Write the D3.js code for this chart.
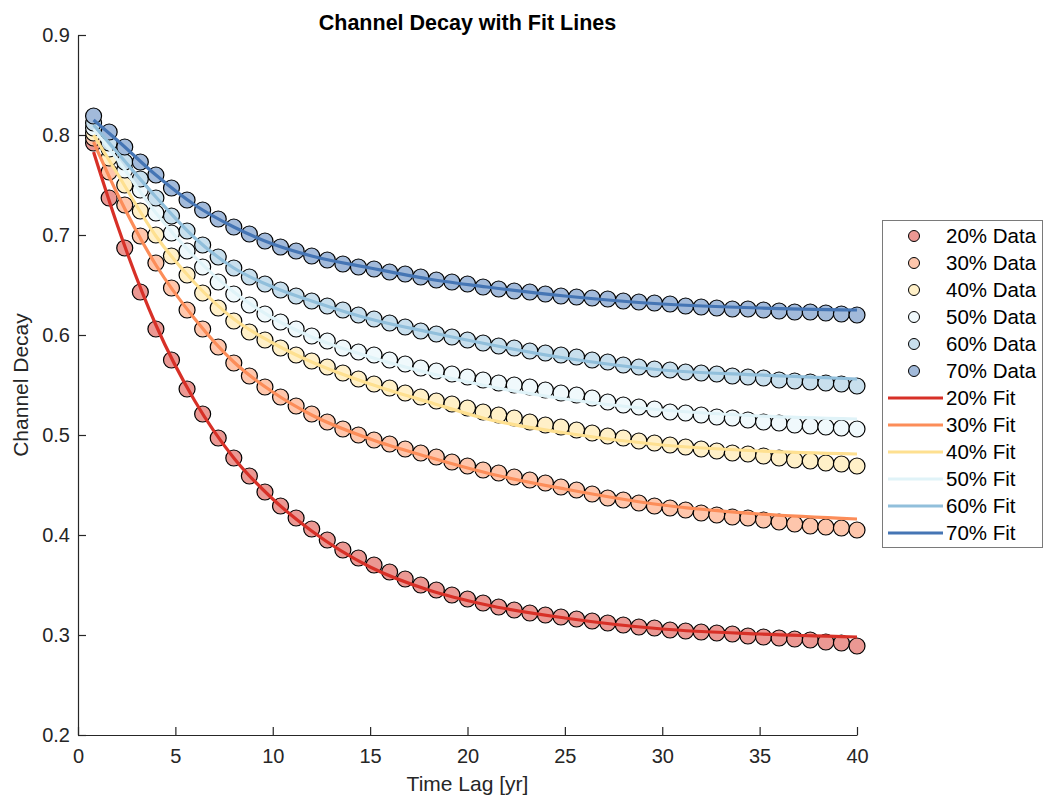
<!DOCTYPE html>
<html>
<head>
<meta charset="utf-8">
<script src="https://cdn.jsdelivr.net/npm/d3@7"></script>
<style>
  html, body { margin: 0; padding: 0; background: #ffffff; }
  svg { display: block; font-family: "Liberation Sans", Arial, Helvetica, sans-serif; }
</style>
</head>
<body>
<svg id="chart" width="1046" height="801"></svg>
<script>
// Sampled time lags (years)
const timeLag = [0.8, 1.6, 2.4, 3.2, 4.0, 4.8, 5.6, 6.4, 7.2, 8.0,
  8.8, 9.6, 10.4, 11.2, 12.0, 12.8, 13.6, 14.4, 15.2, 16.0,
  16.8, 17.6, 18.4, 19.2, 20.0, 20.8, 21.6, 22.4, 23.2, 24.0,
  24.8, 25.6, 26.4, 27.2, 28.0, 28.8, 29.6, 30.4, 31.2, 32.0,
  32.8, 33.6, 34.4, 35.2, 36.0, 36.8, 37.6, 38.4, 39.2, 40.0];

const seriesNames = ["20%", "30%", "40%", "50%", "60%", "70%"];

// Measured channel decay per level
const decay20 = [0.792, 0.737, 0.687, 0.643, 0.606, 0.575, 0.546, 0.521, 0.497, 0.477,
  0.459, 0.443, 0.429, 0.417, 0.406, 0.395, 0.385, 0.377, 0.370, 0.363,
  0.356, 0.350, 0.345, 0.340, 0.336, 0.332, 0.328, 0.325, 0.322, 0.320,
  0.318, 0.316, 0.314, 0.312, 0.310, 0.308, 0.307, 0.305, 0.304, 0.303,
  0.302, 0.301, 0.299, 0.298, 0.297, 0.296, 0.295, 0.293, 0.292, 0.289];
const decay30 = [0.797, 0.763, 0.730, 0.699, 0.672, 0.647, 0.625, 0.606, 0.588, 0.572,
  0.559, 0.548, 0.538, 0.529, 0.521, 0.513, 0.506, 0.500, 0.495, 0.491,
  0.486, 0.482, 0.478, 0.473, 0.469, 0.465, 0.462, 0.458, 0.455, 0.452,
  0.448, 0.445, 0.441, 0.437, 0.435, 0.432, 0.429, 0.427, 0.425, 0.422,
  0.420, 0.418, 0.417, 0.415, 0.413, 0.411, 0.409, 0.408, 0.407, 0.405];
const decay40 = [0.802, 0.777, 0.750, 0.724, 0.700, 0.679, 0.660, 0.642, 0.627, 0.614,
  0.603, 0.595, 0.587, 0.580, 0.574, 0.568, 0.562, 0.556, 0.551, 0.547,
  0.542, 0.538, 0.534, 0.531, 0.527, 0.523, 0.520, 0.517, 0.513, 0.510,
  0.508, 0.505, 0.502, 0.499, 0.497, 0.494, 0.492, 0.490, 0.488, 0.486,
  0.484, 0.482, 0.481, 0.479, 0.477, 0.475, 0.474, 0.472, 0.471, 0.469];
const decay50 = [0.807, 0.786, 0.765, 0.745, 0.722, 0.702, 0.684, 0.668, 0.653, 0.641,
  0.630, 0.621, 0.613, 0.606, 0.599, 0.594, 0.587, 0.583, 0.580, 0.575,
  0.571, 0.567, 0.564, 0.561, 0.558, 0.555, 0.552, 0.550, 0.548, 0.545,
  0.542, 0.540, 0.537, 0.533, 0.530, 0.528, 0.526, 0.523, 0.522, 0.520,
  0.518, 0.517, 0.515, 0.513, 0.512, 0.510, 0.509, 0.508, 0.507, 0.506];
const decay60 = [0.812, 0.792, 0.773, 0.756, 0.737, 0.719, 0.704, 0.690, 0.678, 0.667,
  0.658, 0.651, 0.645, 0.639, 0.634, 0.629, 0.625, 0.620, 0.616, 0.612,
  0.608, 0.604, 0.601, 0.598, 0.595, 0.592, 0.589, 0.587, 0.584, 0.582,
  0.580, 0.578, 0.575, 0.573, 0.570, 0.568, 0.566, 0.565, 0.563, 0.562,
  0.561, 0.559, 0.558, 0.557, 0.555, 0.554, 0.553, 0.552, 0.551, 0.549];
const decay70 = [0.819, 0.803, 0.788, 0.773, 0.760, 0.747, 0.735, 0.725, 0.716, 0.708,
  0.701, 0.694, 0.688, 0.684, 0.679, 0.675, 0.671, 0.668, 0.666, 0.663,
  0.661, 0.658, 0.655, 0.653, 0.651, 0.648, 0.646, 0.644, 0.643, 0.641,
  0.639, 0.638, 0.637, 0.636, 0.634, 0.633, 0.632, 0.631, 0.629, 0.628,
  0.627, 0.626, 0.626, 0.625, 0.624, 0.623, 0.623, 0.622, 0.621, 0.620];

// Fitted curves, evaluated at these lags
const fitLag = [0.8, 2, 4, 6, 8, 10, 12, 15, 18, 21, 25, 30, 35, 40];
const fit20 = [0.783, 0.711, 0.610, 0.534, 0.477, 0.436, 0.404, 0.368, 0.345, 0.330, 0.317, 0.306, 0.301, 0.298];
const fit30 = [0.793, 0.742, 0.670, 0.616, 0.573, 0.543, 0.520, 0.496, 0.478, 0.462, 0.446, 0.430, 0.421, 0.416];
const fit40 = [0.800, 0.762, 0.699, 0.652, 0.616, 0.592, 0.573, 0.551, 0.533, 0.516, 0.502, 0.490, 0.484, 0.481];
const fit50 = [0.806, 0.776, 0.722, 0.678, 0.643, 0.617, 0.598, 0.578, 0.562, 0.549, 0.536, 0.525, 0.519, 0.516];
const fit60 = [0.810, 0.783, 0.738, 0.697, 0.667, 0.648, 0.634, 0.616, 0.603, 0.591, 0.577, 0.565, 0.560, 0.556];
const fit70 = [0.815, 0.795, 0.760, 0.730, 0.708, 0.691, 0.679, 0.667, 0.656, 0.648, 0.639, 0.631, 0.627, 0.625];

const xTicks = [0, 5, 10, 15, 20, 25, 30, 35, 40];
const yTicks = [0.2, 0.3, 0.4, 0.5, 0.6, 0.7, 0.8, 0.9];

const lineColors = ["#d73027", "#fc8d59", "#fee090", "#e0f3f8", "#91bfdb", "#4575b4"];

const decaySets = [decay20, decay30, decay40, decay50, decay60, decay70];
const fitSets = [fit20, fit30, fit40, fit50, fit60, fit70];

// Marker faces are the line colours washed halfway to white
const faceColors = lineColors.map(c => d3.interpolateRgb(c, "#ffffff")(0.5));

const svg = d3.select("#chart");
const axisColor = "#262626";
const plot = { left: 78, right: 857, top: 35, bottom: 735 };

const x = d3.scaleLinear().domain([0, 40]).range([plot.left, plot.right]);
const y = d3.scaleLinear().domain([0.2, 0.9]).range([plot.bottom, plot.top]);

// Axes with inward ticks
const xAxis = svg.append("g")
  .attr("transform", `translate(0,${plot.bottom})`)
  .call(d3.axisBottom(x).tickValues(xTicks).tickSizeInner(-8).tickSizeOuter(0).tickPadding(14)
    .tickFormat(d3.format("d")));
const yAxis = svg.append("g")
  .attr("transform", `translate(${plot.left},0)`)
  .call(d3.axisLeft(y).tickValues(yTicks).tickSizeInner(-8).tickSizeOuter(0).tickPadding(8)
    .tickFormat(d3.format(".1f")));

[xAxis, yAxis].forEach(g => {
  g.select(".domain").attr("stroke", axisColor).attr("stroke-width", 1.2);
  g.selectAll(".tick line").attr("stroke", axisColor).attr("stroke-width", 1.2);
  g.selectAll(".tick text").attr("fill", axisColor)
    .style("font-size", "20px").style("font-family", "'Liberation Sans', Arial, sans-serif");
});

// Data markers
decaySets.forEach((vals, i) => {
  svg.append("g").selectAll("circle")
    .data(vals.map((v, k) => [timeLag[k], v]))
    .join("circle")
    .attr("cx", d => x(d[0]))
    .attr("cy", d => y(d[1]))
    .attr("r", 8)
    .attr("fill", faceColors[i])
    .attr("stroke", "#000000")
    .attr("stroke-width", 1.2);
});

// Fit lines
const fitLine = d3.line()
  .x(d => x(d[0]))
  .y(d => y(d[1]))
  .curve(d3.curveMonotoneX);

fitSets.forEach((vals, i) => {
  svg.append("path")
    .datum(vals.map((v, k) => [fitLag[k], v]))
    .attr("d", fitLine)
    .attr("fill", "none")
    .attr("stroke", lineColors[i])
    .attr("stroke-width", 3.2);
});

// Title and axis labels
svg.append("text")
  .attr("x", (plot.left + plot.right) / 2)
  .attr("y", 30)
  .attr("text-anchor", "middle")
  .style("font-size", "21.5px")
  .style("font-weight", "bold")
  .attr("fill", "#000000")
  .text("Channel Decay with Fit Lines");

svg.append("text")
  .attr("x", (plot.left + plot.right) / 2)
  .attr("y", 791)
  .attr("text-anchor", "middle")
  .style("font-size", "21px")
  .attr("fill", axisColor)
  .text("Time Lag [yr]");

svg.append("text")
  .attr("transform", `translate(28,${(plot.top + plot.bottom) / 2}) rotate(-90)`)
  .attr("text-anchor", "middle")
  .style("font-size", "21px")
  .attr("fill", axisColor)
  .text("Channel Decay");

// Legend
const legend = svg.append("g");
legend.append("rect")
  .attr("x", 882.5).attr("y", 220.5)
  .attr("width", 160).attr("height", 327)
  .attr("fill", "#ffffff")
  .attr("stroke", "#7a7a7a")
  .attr("stroke-width", 1);

const legendItems = [];
seriesNames.forEach((n, i) => legendItems.push({ label: n + " Data", kind: "data", i }));
seriesNames.forEach((n, i) => legendItems.push({ label: n + " Fit", kind: "fit", i }));

const rowY = d3.scaleLinear().domain([0, legendItems.length - 1]).range([236, 533]);

legendItems.forEach((item, r) => {
  const cy = rowY(r);
  if (item.kind === "data") {
    legend.append("circle")
      .attr("cx", 914).attr("cy", cy).attr("r", 5.5)
      .attr("fill", faceColors[item.i])
      .attr("stroke", "#000000").attr("stroke-width", 1);
  } else {
    legend.append("line")
      .attr("x1", 888).attr("x2", 943)
      .attr("y1", cy).attr("y2", cy)
      .attr("stroke", lineColors[item.i])
      .attr("stroke-width", 3.2);
  }
  legend.append("text")
    .attr("x", 946).attr("y", cy)
    .attr("dy", "0.35em")
    .style("font-size", "20.5px")
    .attr("fill", "#000000")
    .text(item.label);
});
</script>
</body>
</html>
